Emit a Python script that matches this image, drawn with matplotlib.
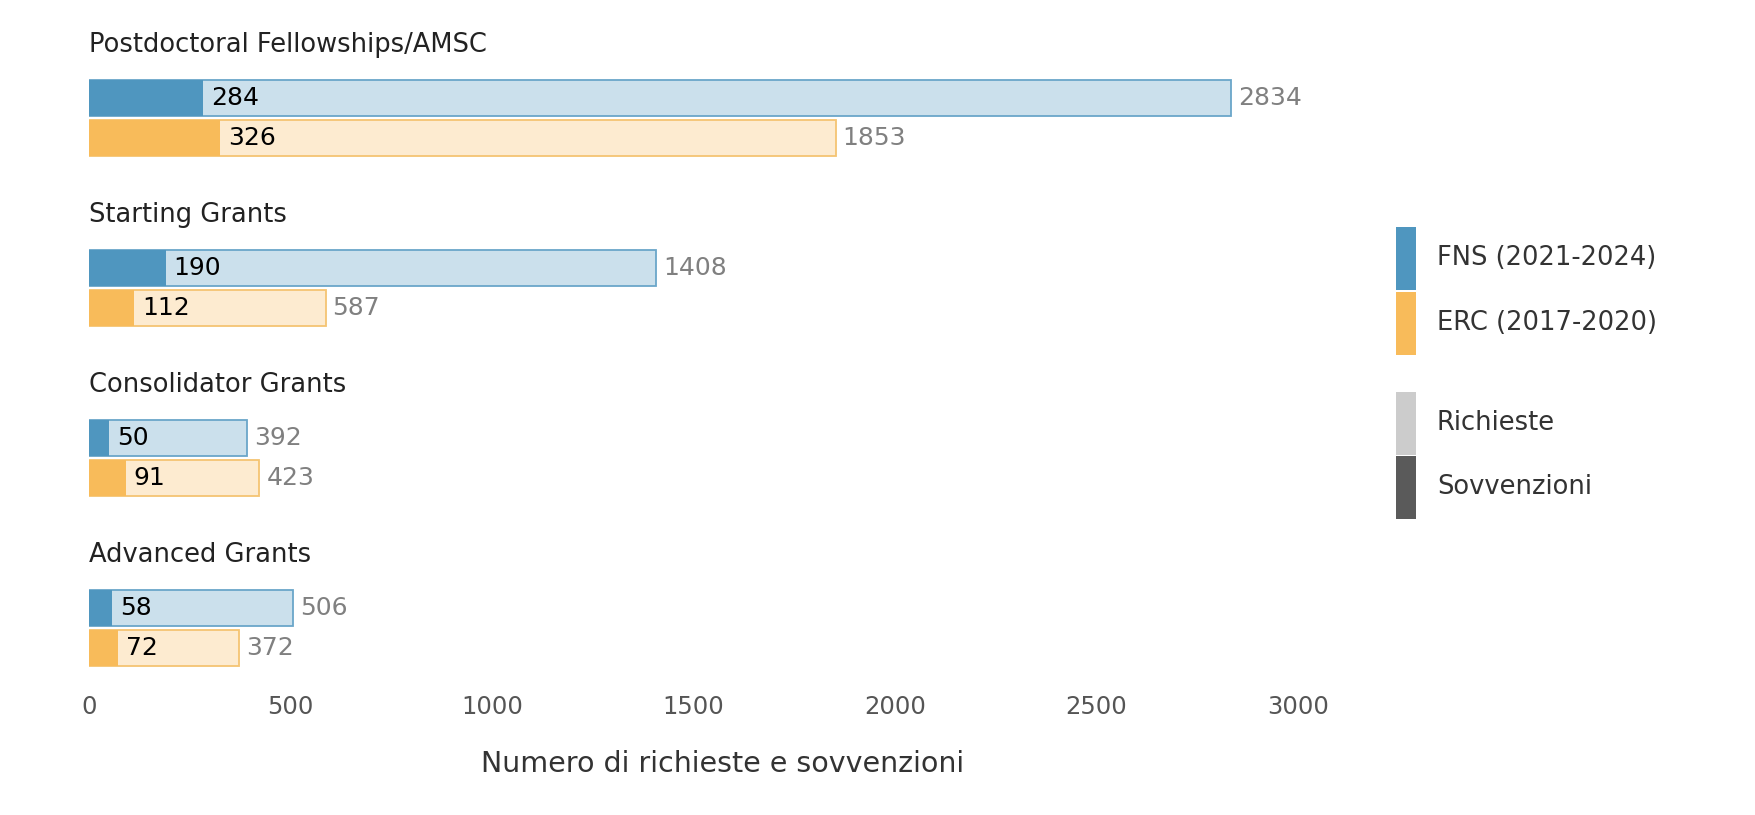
import matplotlib.pyplot as plt
from matplotlib.patches import Rectangle

categories = ["Postdoctoral Fellowships/AMSC", "Starting Grants",
              "Consolidator Grants", "Advanced Grants"]
fns_requests = [2834, 1408, 392, 506]
fns_grants = [284, 190, 50, 58]
erc_requests = [1853, 587, 423, 372]
erc_grants = [326, 112, 91, 72]
series_labels = ["FNS (2021-2024)", "ERC (2017-2020)"]
kind_labels = ["Richieste", "Sovvenzioni"]
xticks = [0, 500, 1000, 1500, 2000, 2500, 3000]

blue, blue_light, blue_edge = "#4f96bf", "#cbe0ec", "#6aa6c9"
orange, orange_light, orange_edge = "#f8bb5a", "#fdebd0", "#f5c472"
grey_txt = "#808080"

plt.rcParams['font.family'] = ['DejaVu Sans']
W, H = 1755, 815
fig = plt.figure(figsize=(W / 100, H / 100), dpi=100)

# main axes in pixels: x 0 -> 89, 0.403 px per unit; y 22..680
x_max = 3146
ax = fig.add_axes([89 / W, 1 - 680 / H, x_max * 0.403 / W, 658 / H])
ax.set_xlim(0, x_max)
ax.set_ylim(3.737, -0.134)

bh = 36 / 170
off_fns = 53 / 170
off_erc = 93 / 170

for g, cat in enumerate(categories):
    ax.text(0, g, cat, ha="left", va="center", fontsize=18.5, color="#222222")
    rows = [(g + off_fns, fns_requests[g], fns_grants[g], blue, blue_light, blue_edge),
            (g + off_erc, erc_requests[g], erc_grants[g], orange, orange_light, orange_edge)]
    for y, req, gr, dark, light, edge in rows:
        ax.barh(y, req, height=bh, color=light, edgecolor=edge, linewidth=1.3)
        ax.barh(y, gr, height=bh, color=dark, linewidth=0)
        ax.text(gr + 19, y, str(gr), ha="left", va="center", fontsize=18, color="black")
        ax.text(req + 17, y, str(req), ha="left", va="center", fontsize=18, color=grey_txt)

for s in ax.spines.values():
    s.set_visible(False)
ax.set_yticks([])
ax.set_xticks(xticks)
ax.tick_params(axis="x", length=0, pad=11, labelsize=17.5, labelcolor="#555555")
fig.text(723 / W, 1 - 764 / H, "Numero di richieste e sovvenzioni",
         ha="center", va="center", fontsize=20.5, color="#333333")

# legend drawn in pixel-space axes
lg = fig.add_axes([0, 0, 1, 1], zorder=-1)
lg.set_xlim(0, W)
lg.set_ylim(H, 0)
lg.axis("off")
legend_items = [(227, blue, series_labels[0]), (292, orange, series_labels[1]),
                (392, "#cccccc", kind_labels[0]), (456, "#5a5a5a", kind_labels[1])]
for top, col, lab in legend_items:
    lg.add_patch(Rectangle((1396, top), 20, 63, color=col, linewidth=0))
    lg.text(1437, top + 31, lab, ha="left", va="center", fontsize=18.5, color="#333333")

fig.savefig("out.png", dpi=100)
